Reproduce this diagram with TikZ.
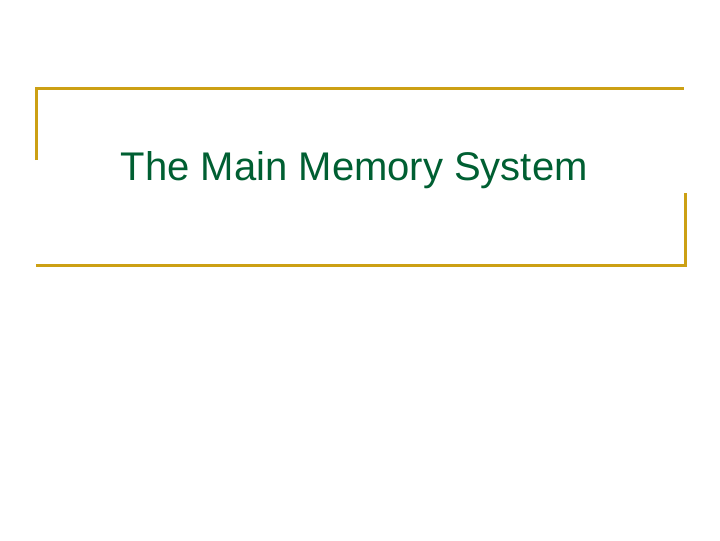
\documentclass[tikz,border=0pt]{standalone}
\usepackage{fontspec}
\setmainfont{Liberation Sans}
\usepackage{tikz}
\definecolor{frameGold}{RGB}{204,160,20}
\definecolor{titleGreen}{RGB}{0,95,50}
\tikzset{every picture/.style={line width=0.75pt}}

\begin{document}
\begin{tikzpicture}[x=0.75pt,y=0.75pt,yscale=-1,xscale=1]
		\useasboundingbox (0,0) rectangle (720,540);
		
		%Straight Lines top frame
		\draw [color=frameGold, line width=2.25pt]   (36,160) -- (36,88) -- (684,88) ;
		
		%Straight Lines bottom frame
		\draw [color=frameGold, line width=2.25pt]   (36,265) -- (685,265) -- (685,193) ;
		
		% Text Node
		\node (title) [color=titleGreen, font=\fontsize{30}{36}\selectfont, anchor=west] at (116,170) {The Main Memory System};
		
\end{tikzpicture}
\end{document}
